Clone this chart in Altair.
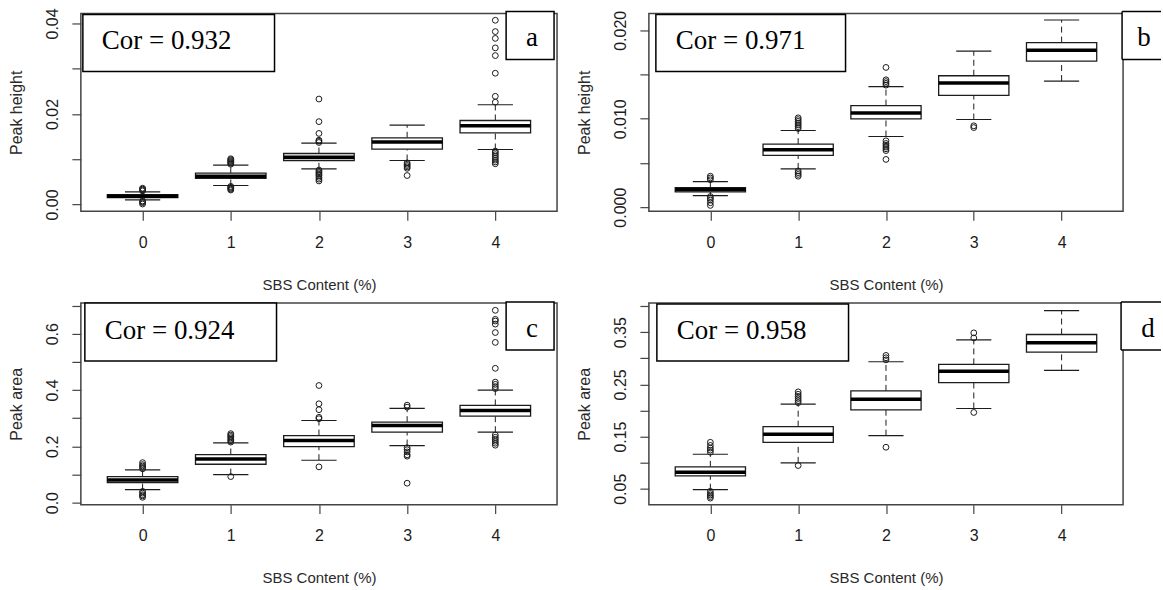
import altair as alt
import pandas as pd

CATS = [0, 1, 2, 3, 4]

# ---- Panel a : Peak height (Cor = 0.932)
A_Q1 = [0.0015, 0.00575, 0.00972, 0.01223, 0.01584]
A_MED = [0.0018, 0.00626, 0.01046, 0.01378, 0.01738]
A_Q3 = [0.0022, 0.00692, 0.01127, 0.01473, 0.01856]
A_WLO = [0.0010, 0.0042, 0.00788, 0.00972, 0.01215]
A_WHI = [0.0028, 0.00869, 0.01355, 0.01753, 0.02203]
A_OUT = [
    [0.0030, 0.0032, 0.0034, 0.0036, 0.0008, 0.0006, 0.0004, 0.0001],
    [0.0089, 0.0091, 0.0093, 0.0095, 0.0097, 0.0099, 0.0101, 0.0040, 0.0038, 0.0036, 0.0034, 0.0032],
    [0.0137, 0.0140, 0.0142, 0.0157, 0.0183, 0.0233, 0.0076, 0.0073, 0.0070, 0.0067, 0.0064, 0.0060, 0.0056, 0.0052],
    [0.0092, 0.0089, 0.0086, 0.0083, 0.0080, 0.0064],
    [0.0226, 0.0239, 0.0290, 0.0329, 0.0346, 0.0367, 0.0382, 0.0407,
     0.0118, 0.0114, 0.0110, 0.0106, 0.0102, 0.0098, 0.0094, 0.0090],
]

# ---- Panel b : Peak height (Cor = 0.971)
B_Q1 = [0.00173, 0.00585, 0.00998, 0.01265, 0.01651]
B_MED = [0.00199, 0.00649, 0.01066, 0.01403, 0.01775]
B_Q3 = [0.00221, 0.00713, 0.01148, 0.01486, 0.01861]
B_WLO = [0.00131, 0.00432, 0.00799, 0.00991, 0.01426]
B_WHI = [0.00289, 0.00867, 0.01362, 0.01764, 0.02116]
B_OUT = [
    [0.0031, 0.0033, 0.0035, 0.0012, 0.0010, 0.0008, 0.0005, 0.0002],
    [0.0089, 0.0091, 0.0093, 0.0095, 0.0097, 0.0099, 0.0101, 0.0041, 0.0039, 0.0037, 0.0035],
    [0.0138, 0.0140, 0.0142, 0.0144, 0.0158, 0.0075, 0.0072, 0.0070, 0.0068, 0.0066, 0.0064, 0.0054],
    [0.0092, 0.0090],
    [],
]

# ---- Panel c : Peak area (Cor = 0.924)
C_Q1 = [0.0711, 0.1364, 0.1992, 0.2502, 0.3071]
C_MED = [0.0806, 0.1553, 0.2206, 0.2739, 0.3273]
C_Q3 = [0.0925, 0.1708, 0.2383, 0.2858, 0.3451]
C_WLO = [0.0462, 0.0996, 0.1506, 0.2028, 0.2502]
C_WHI = [0.1162, 0.2123, 0.2917, 0.3344, 0.3996]
C_OUT = [
    [0.120, 0.125, 0.130, 0.135, 0.142, 0.040, 0.034, 0.028, 0.024, 0.019],
    [0.215, 0.220, 0.225, 0.230, 0.235, 0.240, 0.245, 0.0925],
    [0.298, 0.303, 0.330, 0.351, 0.416, 0.127],
    [0.339, 0.346, 0.195, 0.188, 0.180, 0.170, 0.165, 0.069],
    [0.405, 0.412, 0.420, 0.428, 0.477, 0.569, 0.604, 0.634, 0.645, 0.651, 0.683,
     0.240, 0.232, 0.225, 0.218, 0.211, 0.204],
]

# ---- Panel d : Peak area (Cor = 0.958)
D_Q1 = [0.0748, 0.1390, 0.2013, 0.2534, 0.3119]
D_MED = [0.0818, 0.1542, 0.2216, 0.2750, 0.3297]
D_Q3 = [0.0919, 0.1689, 0.2375, 0.2883, 0.3456]
D_WLO = [0.0481, 0.0996, 0.1517, 0.2038, 0.2769]
D_WHI = [0.1161, 0.2121, 0.2934, 0.3354, 0.3913]
D_OUT = [
    [0.120, 0.124, 0.128, 0.133, 0.139, 0.045, 0.041, 0.038, 0.035, 0.032],
    [0.215, 0.219, 0.223, 0.227, 0.231, 0.2356, 0.0945],
    [0.297, 0.301, 0.3055, 0.1295],
    [0.339, 0.3487, 0.1962],
    [],
]

X_LABEL = "SBS Content (%)"

PANELS = [
    dict(stats=(A_Q1, A_MED, A_Q3, A_WLO, A_WHI), out=A_OUT, ytitle="Peak height",
         cor="Cor = 0.932", tag="a", domain=[-0.00147, 0.0422],
         ticks=[0, 0.01, 0.02, 0.03, 0.04], fmt=".2f", step=0.01, parity=0),
    dict(stats=(B_Q1, B_MED, B_Q3, B_WLO, B_WHI), out=B_OUT, ytitle="Peak height",
         cor="Cor = 0.971", tag="b", domain=[-0.00045, 0.0219],
         ticks=[0, 0.005, 0.01, 0.015, 0.02], fmt=".3f", step=0.005, parity=0),
    dict(stats=(C_Q1, C_MED, C_Q3, C_WLO, C_WHI), out=C_OUT, ytitle="Peak area",
         cor="Cor = 0.924", tag="c", domain=[-0.0071, 0.709],
         ticks=[0, 0.1, 0.2, 0.3, 0.4, 0.5, 0.6, 0.7], fmt=".1f", step=0.1, parity=0),
    dict(stats=(D_Q1, D_MED, D_Q3, D_WLO, D_WHI), out=D_OUT, ytitle="Peak area",
         cor="Cor = 0.958", tag="d", domain=[0.0195, 0.406],
         ticks=[0.05, 0.1, 0.15, 0.2, 0.25, 0.3, 0.35, 0.4], fmt=".2f", step=0.05, parity=1),
]

# layout (pixels, relative to each plot area)
LAYOUT = [
    dict(w=477, h=198, cor_box=(2, 194, 1, 58), cor_text=(21, 36), tag_box=(426, 474, -2, 46), tag_text=(452, 33), cut=False),
    dict(w=475, h=198, cor_box=(7, 197, 1, 58), cor_text=(27, 36), tag_box=(474, 513, -2, 46), tag_text=(496, 33), cut=True),
    dict(w=477, h=202, cor_box=(4, 196, 0, 58), cor_text=(24, 36), tag_box=(426, 474, -1, 47), tag_text=(452, 34), cut=False),
    dict(w=475, h=202, cor_box=(8, 200, 1, 58), cor_text=(28, 36), tag_box=(473, 513, -1, 47), tag_text=(500, 34), cut=True),
]

SANS = "Liberation Sans"
SERIF = "Liberation Serif"
INK = "#1c1c1c"


def make_panel(p, lay):
    q1, med, q3, wlo, whi = p["stats"]
    box_df = pd.DataFrame({"cat": CATS, "q1": q1, "med": med, "q3": q3, "wlo": wlo, "whi": whi})
    out_rows = [(c, v) for c, vals in zip(CATS, p["out"]) for v in vals]
    out_df = pd.DataFrame(out_rows, columns=["cat", "val"])

    xs = alt.Scale(domain=[-0.7, 4.7], nice=False, zero=False)
    ys = alt.Scale(domain=p["domain"], nice=False, zero=False)
    x_axis = alt.Axis(values=CATS, format="d", title=X_LABEL, tickSize=9, labelPadding=22,
                      domain=False, grid=False, labelFontSize=16, titleFontSize=15,
                      titleY=73, titleBaseline="middle", titleFontWeight="normal",
                      labelFlush=False, labelOverlap=False, labelBaseline="middle",
                      labelFont=SANS, titleFont=SANS, labelColor=INK, titleColor="#2a2a2a",
                      tickColor="#444444", tickWidth=1.2)
    expr = f"round(datum.value / {p['step']}) % 2 == {p['parity']} ? datum.label : ''"
    y_axis = alt.Axis(values=p["ticks"], format=p["fmt"], labelExpr=expr, title=p["ytitle"],
                      labelAngle=270, labelAlign="center", labelBaseline="middle",
                      tickSize=9, labelPadding=19, domain=False, grid=False,
                      labelFontSize=16, titleFontSize=16, titleAngle=270,
                      titleX=-64, titleY=lay["h"] / 2, titleAlign="center",
                      titleBaseline="middle", titleFontWeight="normal",
                      labelOverlap=False, labelFlush=False, labelFont=SANS, titleFont=SANS,
                      labelColor=INK, titleColor="#2a2a2a", tickColor="#444444", tickWidth=1.2)

    base = alt.Chart(box_df).transform_calculate(
        xl="datum.cat - 0.4", xr="datum.cat + 0.4",
        sl="datum.cat - 0.2", sr="datum.cat + 0.2",
    )
    X = lambda f: alt.X(f, type="quantitative", scale=xs, axis=x_axis)
    Y = lambda f: alt.Y(f, type="quantitative", scale=ys, axis=y_axis)

    dash = [6, 4]
    w_up = base.mark_rule(color=INK, strokeWidth=1, strokeDash=dash).encode(x=X("cat"), y=Y("q3"), y2="whi:Q")
    w_lo = base.mark_rule(color=INK, strokeWidth=1, strokeDash=dash).encode(x=X("cat"), y=Y("wlo"), y2="q1:Q")
    s_up = base.mark_rule(color=INK, strokeWidth=1.2).encode(x=X("sl"), x2="sr:Q", y=Y("whi"))
    s_lo = base.mark_rule(color=INK, strokeWidth=1.2).encode(x=X("sl"), x2="sr:Q", y=Y("wlo"))
    box = base.mark_rect(fill="white", stroke=INK, strokeWidth=1.3).encode(
        x=X("xl"), x2="xr:Q", y=Y("q1"), y2="q3:Q")
    med_l = base.mark_rule(color="black", strokeWidth=3.5).encode(x=X("xl"), x2="xr:Q", y=Y("med"))
    pts = alt.Chart(out_df).mark_point(shape="circle", filled=False, size=34, color=INK,
                                       strokeWidth=1, opacity=1).encode(x=X("cat"), y=Y("val"))

    ann = alt.Chart(pd.DataFrame({"cor": [p["cor"]], "tag": [p["tag"]]}))
    bx0, bx1, by0, by1 = lay["cor_box"]
    cor_rect = ann.mark_rect(fill="white", stroke="black", strokeWidth=1.5).encode(
        x=alt.value(bx0), x2=alt.value(bx1), y=alt.value(by0), y2=alt.value(by1))
    cor_txt = ann.mark_text(font=SERIF, fontSize=27, align="left", baseline="alphabetic",
                            color="black").encode(
        text="cor:N", x=alt.value(lay["cor_text"][0]), y=alt.value(lay["cor_text"][1]))
    tx0, tx1, ty0, ty1 = lay["tag_box"]
    layers = [w_up, w_lo, s_up, s_lo, box, med_l, pts, cor_rect, cor_txt]
    if lay["cut"]:
        layers.append(ann.mark_rect(fill="white", strokeWidth=0).encode(
            x=alt.value(tx0), x2=alt.value(tx1), y=alt.value(ty0), y2=alt.value(ty1)))
        layers.append(ann.mark_rule(color="black", strokeWidth=1.5).encode(
            x=alt.value(tx0), y=alt.value(ty0), y2=alt.value(ty1)))
        layers.append(ann.mark_rule(color="black", strokeWidth=1.5).encode(
            x=alt.value(tx0), x2=alt.value(tx1), y=alt.value(ty0)))
        layers.append(ann.mark_rule(color="black", strokeWidth=1.5).encode(
            x=alt.value(tx0), x2=alt.value(tx1), y=alt.value(ty1)))
    else:
        layers.append(ann.mark_rect(fill="white", stroke="black", strokeWidth=1.5).encode(
            x=alt.value(tx0), x2=alt.value(tx1), y=alt.value(ty0), y2=alt.value(ty1)))
    layers.append(ann.mark_text(font=SERIF, fontSize=27, align="center", baseline="alphabetic",
                                color="black").encode(
        text="tag:N", x=alt.value(lay["tag_text"][0]), y=alt.value(lay["tag_text"][1])))

    return alt.layer(*layers).properties(width=lay["w"], height=lay["h"])


panels = [make_panel(p, l) for p, l in zip(PANELS, LAYOUT)]

chart = alt.concat(*panels, columns=2, spacing=92, bounds="flush", align="each").properties(
    padding={"left": 8, "top": 6, "right": 0, "bottom": 0},
    background="white",
).configure_view(stroke="#444444", strokeWidth=1.5)

chart.save("out.html", embed_options={"renderer": "svg", "actions": False})
